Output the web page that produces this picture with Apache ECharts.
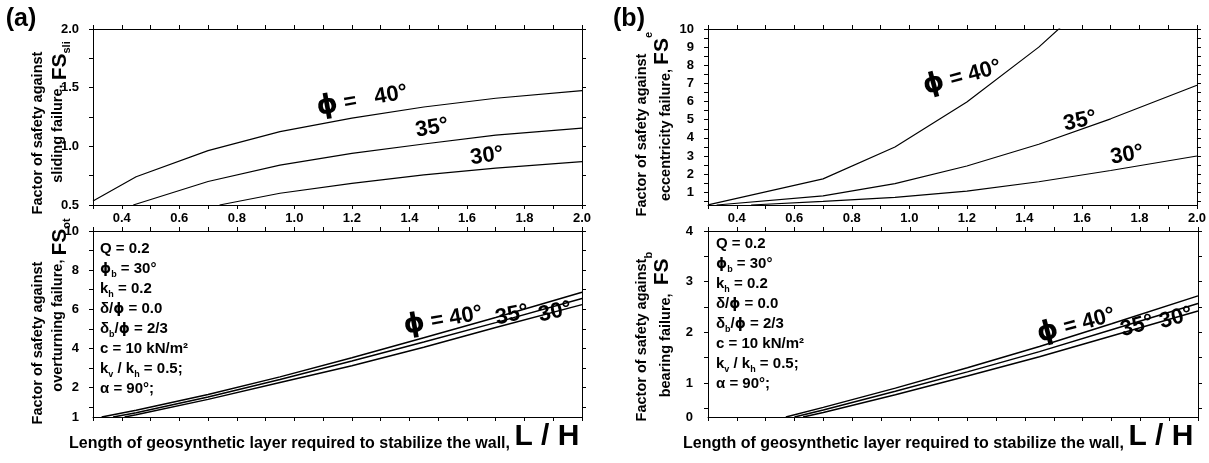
<!DOCTYPE html>
<html>
<head>
<meta charset="utf-8">
<script src="https://cdn.jsdelivr.net/npm/echarts@6/dist/echarts.min.js"></script>
<style>
  html, body { margin: 0; padding: 0; background: #fff; }
  #main { width: 1209px; height: 463px; }
</style>
</head>
<body>
<div id="main"></div>
<script>
// L/H axis, shared by the four panels
const lhTicks = [0.3, 0.4, 0.5, 0.6, 0.7, 0.8, 0.9, 1.0, 1.1, 1.2, 1.3, 1.4, 1.5, 1.6, 1.7, 1.8, 1.9, 2.0];
const lhLabels = [0.4, 0.6, 0.8, 1.0, 1.2, 1.4, 1.6, 1.8, 2.0];

// (a) top - sliding, FS_sli
const sliTicks = [0.5, 0.75, 1.0, 1.25, 1.5, 1.75, 2.0];
const sliLabels = [0.5, 1.0, 1.5, 2.0];
const sliX40 = [0.3, 0.45, 0.7, 0.95, 1.2, 1.45, 1.7, 2.0];
const sli40 = [0.534, 0.741, 0.963, 1.125, 1.24, 1.335, 1.41, 1.475];
const sliX35 = [0.44, 0.7, 0.95, 1.2, 1.45, 1.7, 2.0];
const sli35 = [0.5, 0.70, 0.84, 0.94, 1.02, 1.095, 1.155];
const sliX30 = [0.74, 0.95, 1.2, 1.45, 1.7, 2.0];
const sli30 = [0.5, 0.60, 0.685, 0.756, 0.815, 0.87];

// (a) bottom - overturning, FS_ot
const otTicks = [1, 2, 3, 4, 5, 6, 7, 8, 9, 10];
const otLabelAt = [0.5, 2, 4, 6, 8, 10];
const otLabelText = ['1', '2', '4', '6', '8', '10'];
const otX40 = [0.33, 0.45, 0.7, 0.95, 1.2, 1.45, 1.7, 2.0];
const ot40 = [0.5, 0.85, 1.65, 2.55, 3.53, 4.55, 5.58, 6.87];
const otX35 = [0.37, 0.45, 0.7, 0.95, 1.2, 1.45, 1.7, 2.0];
const ot35 = [0.5, 0.72, 1.52, 2.42, 3.36, 4.33, 5.32, 6.55];
const otX30 = [0.41, 0.45, 0.7, 0.95, 1.2, 1.45, 1.7, 2.0];
const ot30 = [0.5, 0.62, 1.4, 2.26, 3.12, 4.06, 5.07, 6.24];

// (b) top - eccentricity, FS_e
const eTicks = [0.5, 1, 1.5, 2, 2.5, 3, 3.5, 4, 4.5, 5, 5.5, 6, 6.5, 7, 7.5, 8, 8.5, 9, 9.5, 10];
const eLabels = [1, 2, 3, 4, 5, 6, 7, 8, 9, 10];
const eX40 = [0.3, 0.7, 0.95, 1.2, 1.45, 1.7];
const e40 = [0.31, 1.74, 3.5, 5.98, 9.0, 12.6];
const eX35 = [0.33, 0.7, 0.95, 1.2, 1.45, 1.7, 2.0];
const e35 = [0.3, 0.8, 1.48, 2.45, 3.65, 5.05, 6.9];
const eX30 = [0.45, 0.7, 0.95, 1.2, 1.45, 1.7, 2.0];
const e30 = [0.3, 0.5, 0.72, 1.06, 1.58, 2.2, 3.0];

// (b) bottom - bearing, FS_b
const bTicks = [0.5, 1, 1.5, 2, 2.5, 3, 3.5, 4];
const bLabelAt = [0.33, 1, 2, 3, 4];
const bLabelText = ['0', '1', '2', '3', '4'];
const bX40 = [0.57, 0.7, 0.95, 1.2, 1.45, 1.7, 2.0];
const b40 = [0.33, 0.52, 0.9, 1.3, 1.72, 2.17, 2.72];
const bX35 = [0.6, 0.7, 0.95, 1.2, 1.45, 1.7, 2.0];
const b35 = [0.33, 0.47, 0.84, 1.22, 1.62, 2.05, 2.57];
const bX30 = [0.63, 0.7, 0.95, 1.2, 1.45, 1.7, 2.0];
const b30 = [0.33, 0.42, 0.77, 1.14, 1.52, 1.93, 2.42];

const FF = '"Liberation Sans", Arial, sans-serif';
const f = (size) => 'bold ' + size + 'px ' + FF;

const grids = [
  { left: 93, top: 29, width: 489, height: 176 },
  { left: 93, top: 231, width: 489, height: 186 },
  { left: 708, top: 29, width: 490, height: 176 },
  { left: 708, top: 231, width: 490, height: 186 }
];

const lineBlack = { color: '#000', width: 1 };

function xAxisPair(g, labels) {
  const base = {
    type: 'value', gridIndex: g, min: 0.3, max: 2.0,
    axisLine: { show: true, onZero: false, lineStyle: lineBlack },
    axisTick: { show: true, customValues: lhTicks, length: 4, lineStyle: lineBlack },
    splitLine: { show: false }
  };
  return [
    Object.assign({}, base, {
      position: 'bottom',
      axisLabel: {
        show: labels, customValues: lhLabels, margin: 7,
        color: '#000', fontWeight: 'bold', fontSize: 13, fontFamily: FF,
        formatter: (v) => v.toFixed(1)
      }
    }),
    Object.assign({}, base, { position: 'top', axisLabel: { show: false } })
  ];
}

function yAxisPair(g, min, max, ticks, labelAt, fmt, margin) {
  const base = {
    type: 'value', gridIndex: g, min: min, max: max,
    axisLine: { show: true, onZero: false, lineStyle: lineBlack },
    axisTick: { show: true, customValues: ticks, length: 4, lineStyle: lineBlack },
    splitLine: { show: false }
  };
  return [
    Object.assign({}, base, {
      position: 'left',
      axisLabel: {
        show: true, customValues: labelAt, margin: margin,
        color: '#000', fontWeight: 'bold', fontSize: 13, fontFamily: FF,
        formatter: fmt
      }
    }),
    Object.assign({}, base, { position: 'right', axisLabel: { show: false } })
  ];
}

const xAxes = [].concat(xAxisPair(0, true), xAxisPair(1, false), xAxisPair(2, true), xAxisPair(3, false));
const yAxes = [].concat(
  yAxisPair(0, 0.5, 2.0, sliTicks, sliLabels, (v) => v.toFixed(1), 14),
  yAxisPair(1, 0.5, 10, otTicks, otLabelAt, (v) => otLabelText[otLabelAt.indexOf(v)], 14),
  yAxisPair(2, 0.3, 10, eTicks, eLabels, (v) => String(v), 14),
  yAxisPair(3, 0.33, 4, bTicks, bLabelAt, (v) => bLabelText[bLabelAt.indexOf(v)], 15)
);

function curve(g, xs, ys, w) {
  return {
    type: 'line', xAxisIndex: g * 2, yAxisIndex: g * 2,
    data: xs.map((x, i) => [x, ys[i]]),
    showSymbol: false, symbol: 'none', clip: true, silent: true,
    lineStyle: { color: '#000', width: w }
  };
}

const series = [
  curve(0, sliX40, sli40, 1.2), curve(0, sliX35, sli35, 1.2), curve(0, sliX30, sli30, 1.2),
  curve(1, otX40, ot40, 1.5), curve(1, otX35, ot35, 1.5), curve(1, otX30, ot30, 1.5),
  curve(2, eX40, e40, 1.2), curve(2, eX35, e35, 1.2), curve(2, eX30, e30, 1.2),
  curve(3, bX40, b40, 1.5), curve(3, bX35, b35, 1.5), curve(3, bX30, b30, 1.5)
];

// text helpers
function label(x, y, text, rot, rich, font) {
  return {
    type: 'text', x: x, y: y, rotation: rot * Math.PI / 180, silent: true,
    style: {
      text: text, rich: rich || {}, fill: '#000', font: font || f(22),
      align: 'center', verticalAlign: 'middle',
      textAlign: 'center', textVerticalAlign: 'middle'
    }
  };
}

const PHI = '\u03D5';
const phiRich = {
  p: { font: 'bold 27px "DejaVu Sans", ' + FF, fill: '#000' },
  t: { font: f(22), fill: '#000' }
};
const deg = (x, y, txt, rot) => label(x, y, '{t|' + txt + '}', rot, phiRich);
const phi = (x, y, txt, rot) => label(x, y, '{p|' + PHI + '}{t|' + txt + '}', rot, phiRich);

// (a) titles: subscript, (b) titles: raised index
const subRich = {
  t: { font: f(14.5), fill: '#000', lineHeight: 16, verticalAlign: 'top' },
  b: { font: f(21), fill: '#000', lineHeight: 22, verticalAlign: 'top' },
  s: { font: f(11), fill: '#000', lineHeight: 6, verticalAlign: 'bottom' }
};
const supRich = {
  t: { font: f(14.5), fill: '#000', lineHeight: 26, verticalAlign: 'bottom' },
  b: { font: f(21), fill: '#000', lineHeight: 22, verticalAlign: 'bottom' },
  u: { font: f(11), fill: '#000', lineHeight: 10, verticalAlign: 'top' },
  z: { font: f(11), fill: '#000', lineHeight: 30 }
};
const yTitle = (x, y, txt, rich) => label(x, y, txt, 90, rich || subRich);

const paramRich = {
  t: { font: f(15), fill: '#000', lineHeight: 20 },
  g: { font: 'bold 14px "DejaVu Sans", ' + FF, fill: '#000', lineHeight: 20 },
  s: { font: f(9), fill: '#000', lineHeight: 7, verticalAlign: 'bottom' }
};
const paramText = [
  '{t|Q = 0.2}',
  '{g|' + PHI + '}{s|b}{t| = 30°}',
  '{t|k}{s|h}{t| = 0.2}',
  '{t|δ/}{g|' + PHI + '}{t| = 0.0}',
  '{t|δ}{s|b}{t|/}{g|' + PHI + '}{t| = 2/3}',
  '{t|c = 10 kN/m²}',
  '{t|k}{s|v}{t| / k}{s|h}{t| = 0.5;}',
  '{t|α = 90°;}'
].join('\n');
const params = (x, y) => ({
  type: 'text', x: x, y: y, silent: true,
  style: { text: paramText, rich: paramRich, fill: '#000', font: f(15),
    align: 'left', verticalAlign: 'top', textAlign: 'left', textVerticalAlign: 'top' }
});

const xTitleRich = {
  a: { font: f(16), fill: '#000', lineHeight: 16, verticalAlign: 'bottom' },
  b: { font: f(30), fill: '#000', lineHeight: 30 }
};
const xTitle = (x, y) => ({
  type: 'text', x: x, y: y, silent: true,
  style: {
    text: '{a|Length of geosynthetic layer required to stabilize the wall, }{b|L / H}',
    rich: xTitleRich, fill: '#000', font: f(16),
    align: 'left', verticalAlign: 'middle', textAlign: 'left', textVerticalAlign: 'middle'
  }
});

const graphics = [
  label(21, 19, '(a)', 0, null, f(25)),
  label(629, 19, '(b)', 0, null, f(25)),

  yTitle(38, 133, '{t|Factor of safety against}'),
  yTitle(61, 112, '{t|sliding failure, }{b|FS}{s|sli}'),
  yTitle(38, 343, '{t|Factor of safety against}'),
  yTitle(61, 305, '{t|overturning failure, }{b|FS}{s|ot}'),
  yTitle(642, 135, '{t|Factor of safety against}'),
  yTitle(658, 115, '{t|eccentricity failure, }{b|FS}{u|e}{z| }', supRich),
  yTitle(642, 340, '{t|Factor of safety against}'),
  yTitle(658, 323, '{t|bearing failure,  }{b|FS}{u|b}{z| }', supRich),

  phi(362, 100, ' =   40°', 10), deg(432, 128, '35°', 10), deg(487, 156, '30°', 8),
  phi(962, 77, ' = 40°', 15), deg(1080, 121, '35°', 12), deg(1127, 155, '30°', 10),
  phi(443, 320, ' = 40°', 10), deg(512, 315, '35°', 12), deg(555, 312, '30°', 12),
  phi(1076, 325, ' = 40°', 15), deg(1137, 326, '35°', 15), deg(1176, 318, '30°', 15),

  params(100, 239),
  params(716, 234),

  xTitle(69, 437),
  xTitle(683, 437)
];

const chart = echarts.init(document.getElementById('main'));
chart.setOption({
  animation: false,
  backgroundColor: '#fff',
  grid: grids,
  xAxis: xAxes,
  yAxis: yAxes,
  series: series,
  graphic: { elements: graphics }
});
</script>
</body>
</html>
